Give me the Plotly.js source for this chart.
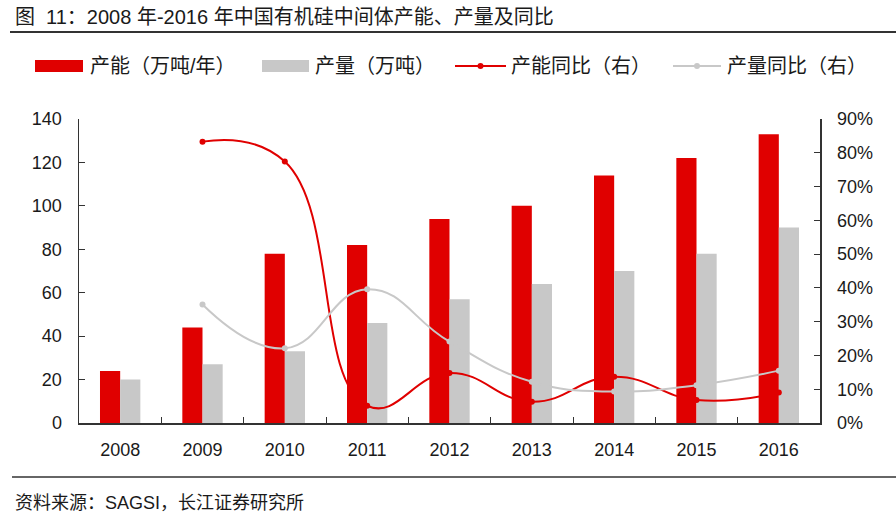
<!DOCTYPE html>
<html><head><meta charset="utf-8">
<script src="https://cdn.plot.ly/plotly-3.0.1.min.js"></script>
<style>html,body{margin:0;padding:0;background:#fff;}#chart{width:896px;height:516px;}</style>
</head><body><div id="chart"></div>
<script>
const years = ['2008','2009','2010','2011','2012','2013','2014','2015','2016'];
const capacity = [24, 44, 78, 82, 94, 100, 114, 122, 133];
const output = [20, 27, 33, 46, 57, 64, 70, 78, 90];
const capYoY = [null, 83.3, 77.4, 5.1, 14.8, 6.3, 13.7, 6.8, 9.0];
const outYoY = [null, 35.1, 22.1, 39.6, 24.1, 12.2, 9.3, 11.2, 15.5];
const leftTicks = [0,20,40,60,80,100,120,140];
const rightTicks = [0,10,20,30,40,50,60,70,80,90];
const seriesNames = ['产能（万吨/年）', '产量（万吨）', '产能同比（右）', '产量同比（右）'];

const RED = '#e00000', GRAY = '#c8c8c8';
const FONT = 'Liberation Sans, Arial, Noto Sans CJK SC, sans-serif';
const TXT = '#1a1a1a';

const traces = [
  {type:'bar', x: years, y: capacity, name: seriesNames[0], marker:{color:RED}},
  {type:'bar', x: years, y: output, name: seriesNames[1], marker:{color:GRAY}},
  {type:'scatter', mode:'lines+markers', x: years, y: capYoY, yaxis:'y2', name: seriesNames[2],
   line:{color:RED, width:2, shape:'spline', smoothing:1.3}, marker:{color:RED, size:6, symbol:'circle'}},
  {type:'scatter', mode:'lines+markers', x: years, y: outYoY, yaxis:'y2', name: seriesNames[3],
   line:{color:GRAY, width:2, shape:'spline', smoothing:1.3}, marker:{color:GRAY, size:6, symbol:'circle'}}
];

// plot area: x 79..820, y 119..423
const L = 79, R = 820, T = 119, B = 423;
const px = v => (v - L) / (R - L);
const py = v => (B - v) / (B - T);

const legY = py(66);
const legend = [
  {kind:'rect', x0:35, x1:83, tx:88, color:RED},
  {kind:'rect', x0:262, x1:309, tx:313, color:GRAY},
  {kind:'line', x0:455, x1:506, tx:509, color:RED},
  {kind:'line', x0:673, x1:721, tx:725, color:GRAY}
];
const shapes = [
  {type:'line', xref:'paper', yref:'paper', x0:px(10), x1:px(896), y0:py(32), y1:py(32), line:{color:'#333', width:2}},
  {type:'line', xref:'paper', yref:'paper', x0:px(12), x1:px(896), y0:py(477), y1:py(477), line:{color:'#333', width:1.5}}
];
const annotations = [
  {xref:'paper', yref:'paper', x:px(13), y:py(17), xanchor:'left', yanchor:'middle', showarrow:false,
   text:'图  11：2008 年-2016 年中国有机硅中间体产能、产量及同比', font:{size:20, family:FONT, color:TXT}},
  {xref:'paper', yref:'paper', x:px(13), y:py(503), xanchor:'left', yanchor:'middle', showarrow:false,
   text:'资料来源：SAGSI，长江证券研究所', font:{size:18, family:FONT, color:TXT}}
];
legend.forEach((it, i) => {
  if (it.kind === 'rect') {
    shapes.push({type:'rect', xref:'paper', yref:'paper', x0:px(it.x0), x1:px(it.x1), y0:py(72), y1:py(60),
                 fillcolor:it.color, line:{width:0}});
  } else {
    shapes.push({type:'line', xref:'paper', yref:'paper', x0:px(it.x0), x1:px(it.x1), y0:legY, y1:legY,
                 line:{color:it.color, width:2}});
    const cx = (it.x0 + it.x1) / 2;
    shapes.push({type:'circle', xref:'paper', yref:'paper', x0:px(cx-3), x1:px(cx+3), y0:py(69), y1:py(63),
                 fillcolor:it.color, line:{width:0}});
  }
  annotations.push({xref:'paper', yref:'paper', x:px(it.tx), y:legY, xanchor:'left', yanchor:'middle', showarrow:false,
                    text: seriesNames[i], font:{size:20, family:FONT, color:TXT}});
});

const axisCommon = {showline:true, linecolor:'#333', linewidth:1.5, ticks:'inside', ticklen:6,
                    tickcolor:'#333', showgrid:false, zeroline:false, tickfont:{size:18}, ticklabelstandoff: 12};
const layout = {
  width: 896, height: 516,
  margin: {l: L, r: 896 - R, t: T, b: 516 - B},
  paper_bgcolor: '#fff', plot_bgcolor: '#fff',
  font: {family: FONT, size: 17, color: TXT},
  barmode: 'group', bargap: 0.51, bargroupgap: 0,
  showlegend: false,
  xaxis: Object.assign({}, axisCommon, {type:'category', tickson:'boundaries', ticklabelstandoff: 10}),
  yaxis: Object.assign({}, axisCommon, {range:[0,140], tickvals: leftTicks}),
  yaxis2: Object.assign({}, axisCommon, {overlaying:'y', side:'right', range:[0,90], tickvals: rightTicks,
           ticktext: rightTicks.map(v => v + '%')}),
  shapes: shapes,
  annotations: annotations
};
Plotly.newPlot('chart', traces, layout, {displayModeBar:false, staticPlot:true});
</script></body></html>
